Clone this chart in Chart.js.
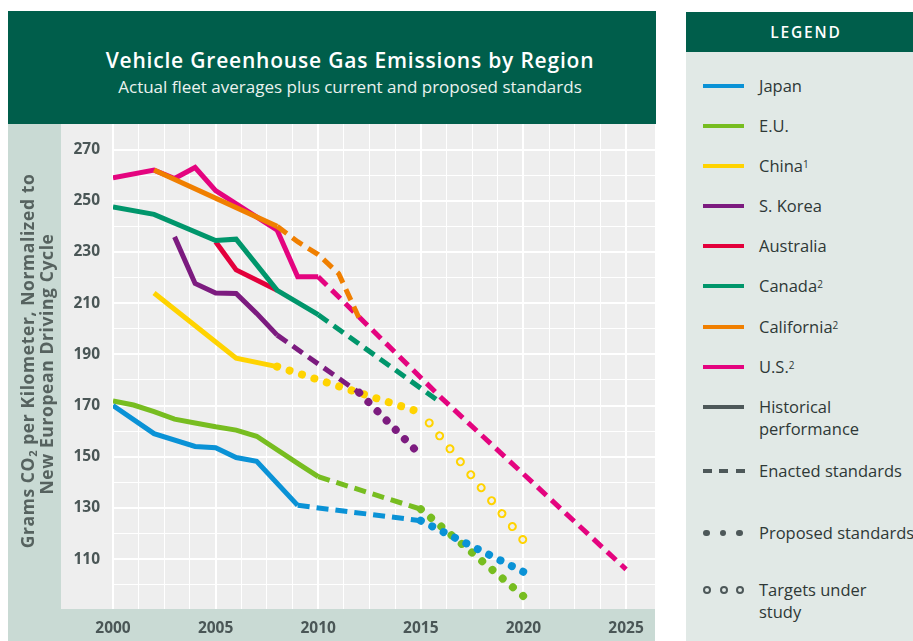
<!DOCTYPE html>
<html>
<head>
<meta charset="utf-8">
<script src="https://cdn.jsdelivr.net/npm/chart.js@4.4.1/dist/chart.umd.min.js"></script>
<style>
  body { margin: 0; width: 913px; height: 641px; position: relative; overflow: hidden; background: #fff; font-family: "Open Sans", sans-serif; }
  #head { position: absolute; left: 8px; top: 11px; width: 648px; height: 113px; background: #005e4b; color: #fff; }
  #head .t { position: absolute; left: 0; width: 684px; top: 34px; text-align: center; font-size: 21px; font-weight: 600; letter-spacing: 0.8px; line-height: 30px; }
  #head .s { position: absolute; left: 0; width: 684px; top: 63px; text-align: center; font-size: 17px; line-height: 26px; color: #eaf2ee; }
  #plot { position: absolute; left: 8px; top: 124px; width: 647px; height: 517px; background: #c9dad4; }
  #legend { position: absolute; left: 686px; top: 12px; width: 240px; height: 629px; background: #e1e9e6; }
  #legend .lh { height: 40px; line-height: 40px; background: #005e4b; color: #fff; text-align: center; font-size: 15.5px; font-weight: 600; letter-spacing: 1.8px; }
  .row { position: absolute; left: 0; width: 240px; }
  .sw { position: absolute; left: 17px; width: 41px; height: 4.5px; margin-top: -2.25px; }
  .dash { position: absolute; width: 9px; height: 4.5px; margin-top: -2.25px; background: #4d5859; }
  .dot { position: absolute; width: 6.5px; height: 6.5px; margin-top: -3.25px; border-radius: 50%; background: #4d5859; }
  .ring { position: absolute; width: 4px; height: 4px; margin-top: -4px; border-radius: 50%; border: 2px solid #4d5859; }
  .lbl { position: absolute; left: 73px; font-size: 16.5px; line-height: 22px; color: #2e3836; white-space: nowrap; }
  .lbl sup { font-size: 10px; vertical-align: top; position: relative; top: -2px; }
</style>
</head>
<body>
<div id="head">
  <div class="t">Vehicle Greenhouse Gas Emissions by Region</div>
  <div class="s">Actual fleet averages plus current and proposed standards</div>
</div>
<div id="plot"><canvas id="emissionsChart" width="647" height="517"></canvas></div>
<div id="legend">
  <div class="lh">LEGEND</div>
  <div id="legendRows"></div>
</div>
<script>
// axis labels
const xTickLabels = [2000, 2005, 2010, 2015, 2020, 2025];
const yTickLabels = [110, 130, 150, 170, 190, 210, 230, 250, 270];

// [year, g CO2/km]
const japanHistorical = [[2000, 170], [2002, 159], [2004, 154], [2005, 153.5], [2006, 149.7], [2007, 148.2], [2009, 131]];
const japanEnacted = [[2009, 131], [2015, 125]];
const japanProposed = [[2015, 125], [2020, 105]];

const euHistorical = [[2000, 171.8], [2001, 170.2], [2002, 167.6], [2003, 164.7], [2004, 163.2], [2005, 161.7], [2006, 160.4], [2007, 158], [2009, 147.4], [2010, 142.2]];
const euEnacted = [[2010, 142.2], [2015, 129.5]];
const euProposed = [[2015, 129.5], [2020, 95.5]];

const chinaHistorical = [[2002, 214], [2006, 188.5], [2008, 185.2]];
const chinaProposed = [[2008, 185.2], [2015, 167.3]];
const chinaTargets = [[2015, 167.3], [2020, 117.3]];

const koreaHistorical = [[2003, 235.9], [2004, 217.7], [2005, 214], [2006, 213.8], [2007, 206], [2008, 197.5]];
const koreaEnacted = [[2008, 197.5], [2012, 175]];
const koreaProposed = [[2012, 175], [2015, 150.5]];

const australiaHistorical = [[2005, 234], [2006, 223], [2008, 215]];

const canadaHistorical = [[2000, 247.6], [2002, 244.7], [2005, 234.5], [2006, 235], [2008, 215], [2010, 205.5]];
const canadaEnacted = [[2010, 205.5], [2016, 171]];

const californiaHistorical = [[2002, 262], [2008, 240]];
const californiaEnacted = [[2008, 240], [2009, 234], [2010, 229], [2011, 221.5], [2012, 204]];

const usHistorical = [[2000, 259], [2002, 262], [2003, 258.7], [2004, 263], [2005, 254], [2008, 238.5], [2009, 220.3], [2010, 220.3]];
const usEnacted = [[2010, 220.3], [2016, 173], [2025, 106]];

const COLORS = {
  japan: '#0a92d6',
  eu: '#77bd20',
  china: '#ffd300',
  korea: '#7c1b7f',
  australia: '#e3003b',
  canada: '#00966b',
  california: '#f07f00',
  us: '#e4047f',
  grey: '#4d5859'
};
const PLOT_BG = '#eeeeee';
const TEXT = '#4a5656';

// grid lines: four sub-steps between labelled ticks
const xGrid = [];
for (let i = 0; i < xTickLabels.length - 1; i++) {
  const step = (xTickLabels[i + 1] - xTickLabels[i]) / 4;
  for (let k = 0; k < 4; k++) xGrid.push(xTickLabels[i] + k * step);
}
xGrid.push(xTickLabels[xTickLabels.length - 1]);
const yGrid = [yTickLabels[0] - 10];
yTickLabels.forEach((v, i) => {
  yGrid.push(v);
  if (i < yTickLabels.length - 1) yGrid.push(v + 10);
});

const toXY = pts => pts.map(([x, y]) => ({ x, y }));

function solid(points, color, order) {
  return { data: toXY(points), borderColor: color, borderWidth: 5, order };
}
function dashed(points, color, order) {
  return { data: toXY(points), borderColor: color, borderWidth: 5, borderDash: [12, 7], order };
}
function dotted(points, color, order, gap, offset = 0, width = 8) {
  return {
    data: toXY(points), borderColor: color, borderWidth: width,
    borderDash: [0.01, gap], borderDashOffset: offset, borderCapStyle: 'round', order
  };
}

const datasets = [
  solid(japanHistorical, COLORS.japan, 1.2),
  dashed(japanEnacted, COLORS.japan, 1.2),
  dotted(japanProposed, COLORS.japan, 1.1, 12.7),

  solid(euHistorical, COLORS.eu, 2.2),
  dashed(euEnacted, COLORS.eu, 2.2),
  dotted(euProposed, COLORS.eu, 2.1, 13.4),

  solid(koreaHistorical, COLORS.korea, 3.2),
  dashed(koreaEnacted, COLORS.korea, 3.2),
  dotted(koreaProposed, COLORS.korea, 3.1, 13),

  solid(chinaHistorical, COLORS.china, 4.2),
  dotted(chinaProposed, COLORS.china, 4.1, 13),
  // open circles: yellow dots with a smaller plot-coloured dot on top
  dotted(chinaTargets, COLORS.china, 4.1, 16.6, 3.2, 9),
  dotted(chinaTargets, PLOT_BG, 4.05, 16.6, 3.2, 5),

  solid(canadaHistorical, COLORS.canada, 5.2),
  dashed(canadaEnacted, COLORS.canada, 5.2),

  solid(australiaHistorical, COLORS.australia, 6.2),

  solid(californiaHistorical, COLORS.california, 7.2),
  dashed(californiaEnacted, COLORS.california, 7.2),

  solid(usHistorical, COLORS.us, 8.2),
  dashed(usEnacted, COLORS.us, 8.2)
];

// grey plot panel behind the ticks + rotated two-line y title
const panelPlugin = {
  id: 'panel',
  beforeDraw(chart) {
    const { ctx, chartArea: a } = chart;
    ctx.save();
    ctx.fillStyle = PLOT_BG;
    ctx.fillRect(a.left - 52, a.top, a.right - a.left + 52, a.bottom - a.top);
    ctx.restore();
  },
  afterDraw(chart) {
    const ctx = chart.ctx;
    const lines = [
      { cx: 21, cy: 237, parts: [['Grams CO', 17.5, 0], ['2', 11, 5], [' per Kilometer, Normalized to', 17.5, 0]] },
      { cx: 40, cy: 240, parts: [['New European Driving Cycle', 17.5, 0]] }
    ];
    ctx.save();
    ctx.fillStyle = '#56625f';
    ctx.textBaseline = 'middle';
    ctx.textAlign = 'left';
    ctx.letterSpacing = '0.6px';
    lines.forEach(line => {
      let total = 0;
      line.parts.forEach(([t, s]) => {
        ctx.font = `bold ${s}px "Open Sans"`;
        total += ctx.measureText(t).width;
      });
      ctx.save();
      ctx.translate(line.cx, line.cy);
      ctx.rotate(-Math.PI / 2);
      let x = -total / 2;
      line.parts.forEach(([t, s, dy]) => {
        ctx.font = `bold ${s}px "Open Sans"`;
        ctx.fillText(t, x, dy);
        x += ctx.measureText(t).width;
      });
      ctx.restore();
    });
    ctx.restore();
  }
};

const tickFont = { family: 'Open Sans', size: 15.5, weight: 'bold' };

new Chart(document.getElementById('emissionsChart'), {
  type: 'line',
  data: { datasets },
  options: {
    responsive: false,
    animation: false,
    layout: { padding: 0 },
    elements: { point: { radius: 0 }, line: { tension: 0, borderJoinStyle: 'miter' } },
    plugins: { legend: { display: false }, tooltip: { enabled: false } },
    scales: {
      x: {
        type: 'linear',
        min: 2000,
        max: 2026.41,
        afterBuildTicks: s => { s.ticks = xGrid.map(v => ({ value: v })); },
        afterFit: s => { s.height = 32; s.paddingLeft = 0; s.paddingRight = 0; },
        border: { display: false },
        grid: {
          color: '#ffffff',
          drawTicks: false,
          lineWidth: c => (xTickLabels.includes(c.tick.value) ? 2 : 1)
        },
        ticks: {
          autoSkip: false, maxRotation: 0, padding: 10, color: TEXT, font: tickFont,
          callback: v => (xTickLabels.includes(v) ? String(v) : '')
        }
      },
      y: {
        min: 90.5,
        max: 280,
        afterBuildTicks: s => { s.ticks = yGrid.map(v => ({ value: v })); },
        afterFit: s => { s.width = 105; s.paddingTop = 0; s.paddingBottom = 0; },
        border: { display: false },
        grid: {
          color: '#ffffff',
          drawTicks: false,
          lineWidth: c => (yTickLabels.includes(c.tick.value) ? 2 : 1)
        },
        ticks: {
          autoSkip: false, padding: 13, color: TEXT, font: tickFont,
          callback: v => (yTickLabels.includes(v) ? String(v) : '')
        }
      }
    }
  },
  plugins: [panelPlugin]
});

// HTML legend
const legendRows = [
  { y: 86, type: 'line', color: COLORS.japan, label: 'Japan' },
  { y: 126, type: 'line', color: COLORS.eu, label: 'E.U.' },
  { y: 166, type: 'line', color: COLORS.china, label: 'China<sup>1</sup>' },
  { y: 206, type: 'line', color: COLORS.korea, label: 'S. Korea' },
  { y: 246, type: 'line', color: COLORS.australia, label: 'Australia' },
  { y: 286, type: 'line', color: COLORS.canada, label: 'Canada<sup>2</sup>' },
  { y: 327, type: 'line', color: COLORS.california, label: 'California<sup>2</sup>' },
  { y: 367, type: 'line', color: COLORS.us, label: 'U.S.<sup>2</sup>' },
  { y: 407, type: 'line', color: COLORS.grey, label: 'Historical<br>performance' },
  { y: 471, type: 'dash', label: 'Enacted standards' },
  { y: 533, type: 'dot', label: 'Proposed standards' },
  { y: 590, type: 'ring', label: 'Targets under<br>study' }
];

const container = document.getElementById('legendRows');
legendRows.forEach(r => {
  const row = document.createElement('div');
  row.className = 'row';
  row.style.top = (r.y - 12) + 'px';
  if (r.type === 'line') {
    const sw = document.createElement('div');
    sw.className = 'sw';
    sw.style.background = r.color;
    row.appendChild(sw);
  } else {
    const lefts = r.type === 'dash' ? [17, 33, 50] : [17, 33.5, 50];
    lefts.forEach(l => {
      const m = document.createElement('div');
      m.className = r.type;
      m.style.left = l + 'px';
      row.appendChild(m);
    });
  }
  const lbl = document.createElement('div');
  lbl.className = 'lbl';
  lbl.style.top = '-11px';
  lbl.innerHTML = r.label;
  row.appendChild(lbl);
  container.appendChild(row);
});
</script>
</body>
</html>
